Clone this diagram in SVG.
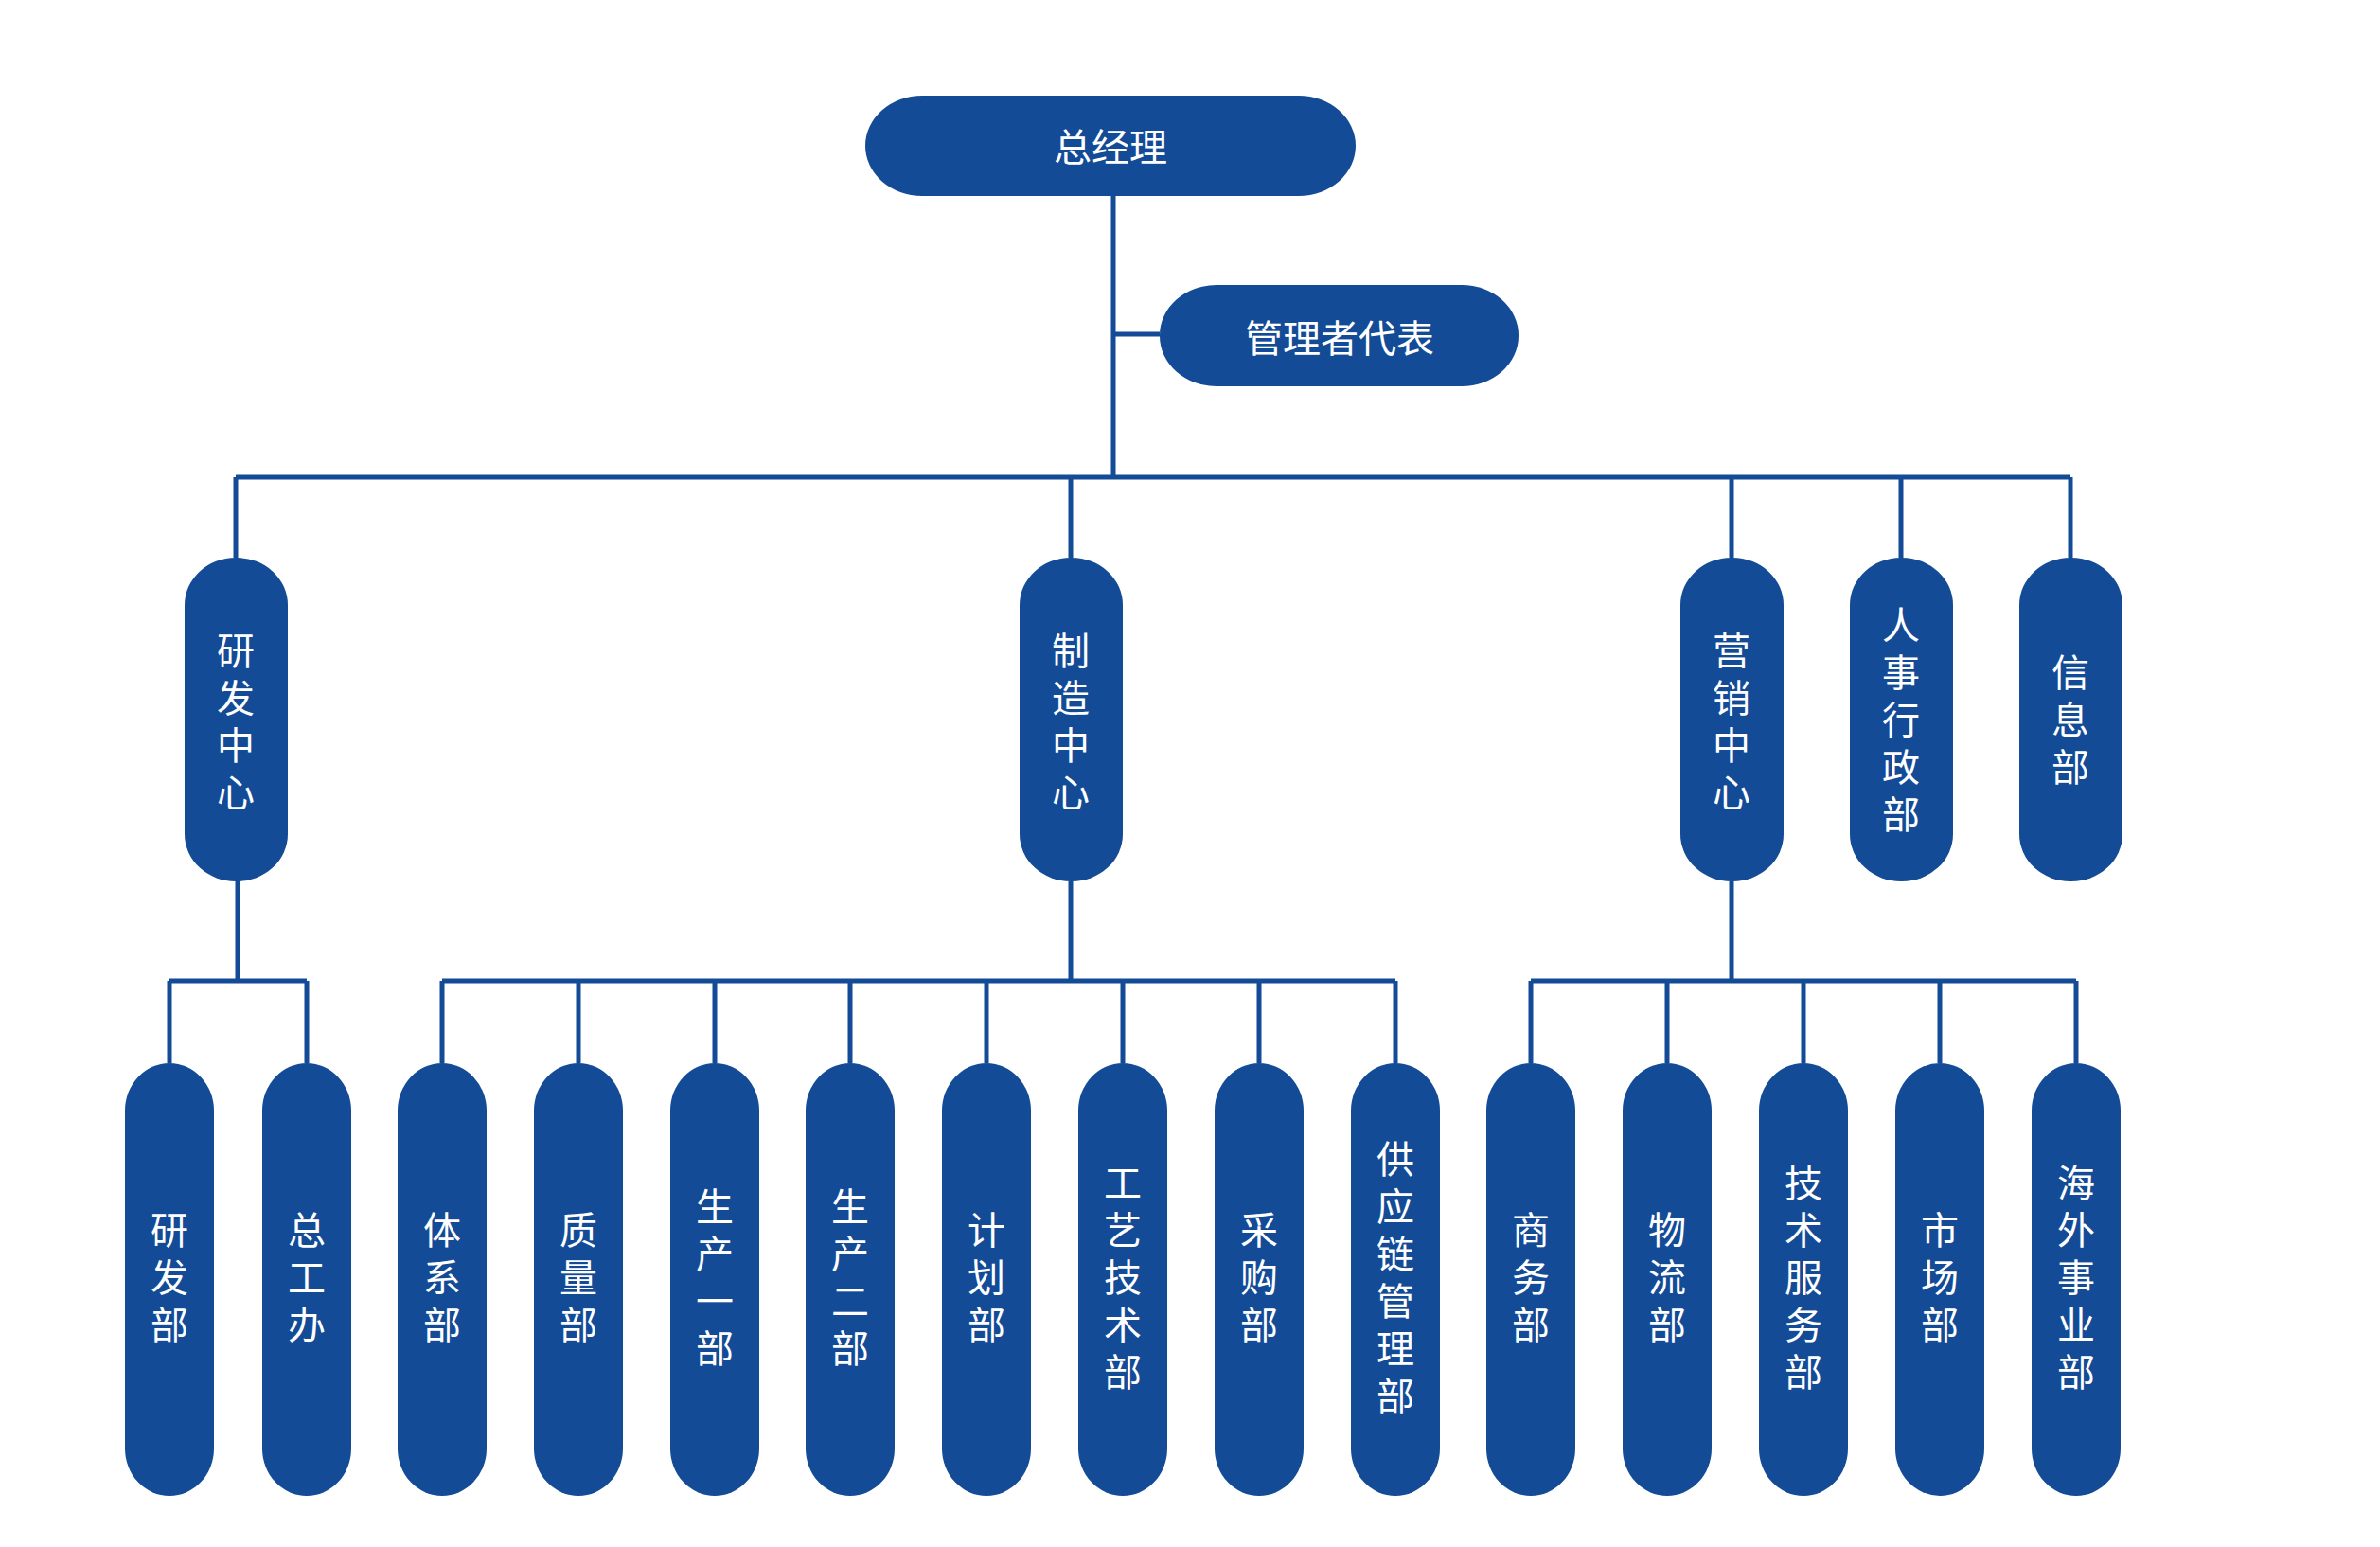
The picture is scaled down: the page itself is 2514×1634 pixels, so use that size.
<svg xmlns="http://www.w3.org/2000/svg" width="2514" height="1634" viewBox="0 0 2514 1634">
<style>
.n{fill:#134b97}
.t{fill:#fff;font-family:"Noto Sans CJK SC",sans-serif;font-size:40px;text-anchor:middle;dominant-baseline:central}
.c{stroke:#134b97;stroke-width:5;fill:none}
</style>
<rect width="2514" height="1634" fill="#fff"/>
<g id="connectors" class="c">
<path d="M1176 207V504M1176 353H1225M249 504H2187M249 504V589M1131 504V589M1829 504V589M2008 504V589M2187 504V589"/>
<path d="M251 931V1036M179 1036H324M179 1036V1123M324 1036V1123"/>
<path d="M1131 931V1036M467 1036H1474M467 1036V1123M611 1036V1123M755 1036V1123M898 1036V1123M1042 1036V1123M1186 1036V1123M1330 1036V1123M1474 1036V1123"/>
<path d="M1829 931V1036M1617 1036H2193M1617 1036V1123M1761 1036V1123M1905 1036V1123M2049 1036V1123M2193 1036V1123"/>
</g>
<g id="gm"><rect class="n" x="914" y="101" width="518" height="106" rx="60" ry="53"/><text class="t" x="1173" y="153">总经理</text></g>
<g id="rep"><rect class="n" x="1225" y="301" width="379" height="107" rx="60" ry="53"/><text class="t" x="1415" y="355">管理者代表</text></g>
<g id="m1"><rect class="n" x="195" y="589" width="109" height="342" rx="54" ry="50"/><text class="t"><tspan x="249" y="685">研</tspan><tspan x="249" dy="50">发</tspan><tspan x="249" dy="50">中</tspan><tspan x="249" dy="50">心</tspan></text></g>
<g id="m2"><rect class="n" x="1077" y="589" width="109" height="342" rx="54" ry="50"/><text class="t"><tspan x="1131" y="685">制</tspan><tspan x="1131" dy="50">造</tspan><tspan x="1131" dy="50">中</tspan><tspan x="1131" dy="50">心</tspan></text></g>
<g id="m3"><rect class="n" x="1775" y="589" width="109" height="342" rx="54" ry="50"/><text class="t"><tspan x="1829" y="685">营</tspan><tspan x="1829" dy="50">销</tspan><tspan x="1829" dy="50">中</tspan><tspan x="1829" dy="50">心</tspan></text></g>
<g id="m4"><rect class="n" x="1954" y="589" width="109" height="342" rx="54" ry="50"/><text class="t"><tspan x="2008" y="658">人</tspan><tspan x="2008" dy="50">事</tspan><tspan x="2008" dy="50">行</tspan><tspan x="2008" dy="50">政</tspan><tspan x="2008" dy="50">部</tspan></text></g>
<g id="m5"><rect class="n" x="2133" y="589" width="109" height="342" rx="54" ry="50"/><text class="t"><tspan x="2187" y="708">信</tspan><tspan x="2187" dy="50">息</tspan><tspan x="2187" dy="50">部</tspan></text></g>
<g id="b1"><rect class="n" x="132" y="1123" width="94" height="457" rx="47" ry="50"/><text class="t"><tspan x="179" y="1297">研</tspan><tspan x="179" dy="50">发</tspan><tspan x="179" dy="50">部</tspan></text></g>
<g id="b2"><rect class="n" x="277" y="1123" width="94" height="457" rx="47" ry="50"/><text class="t"><tspan x="324" y="1297">总</tspan><tspan x="324" dy="50">工</tspan><tspan x="324" dy="50">办</tspan></text></g>
<g id="b3"><rect class="n" x="420" y="1123" width="94" height="457" rx="47" ry="50"/><text class="t"><tspan x="467" y="1297">体</tspan><tspan x="467" dy="50">系</tspan><tspan x="467" dy="50">部</tspan></text></g>
<g id="b4"><rect class="n" x="564" y="1123" width="94" height="457" rx="47" ry="50"/><text class="t"><tspan x="611" y="1297">质</tspan><tspan x="611" dy="50">量</tspan><tspan x="611" dy="50">部</tspan></text></g>
<g id="b5"><rect class="n" x="708" y="1123" width="94" height="457" rx="47" ry="50"/><text class="t"><tspan x="755" y="1272">生</tspan><tspan x="755" dy="50">产</tspan><tspan x="755" dy="50">一</tspan><tspan x="755" dy="50">部</tspan></text></g>
<g id="b6"><rect class="n" x="851" y="1123" width="94" height="457" rx="47" ry="50"/><text class="t"><tspan x="898" y="1272">生</tspan><tspan x="898" dy="50">产</tspan><tspan x="898" dy="50">二</tspan><tspan x="898" dy="50">部</tspan></text></g>
<g id="b7"><rect class="n" x="995" y="1123" width="94" height="457" rx="47" ry="50"/><text class="t"><tspan x="1042" y="1297">计</tspan><tspan x="1042" dy="50">划</tspan><tspan x="1042" dy="50">部</tspan></text></g>
<g id="b8"><rect class="n" x="1139" y="1123" width="94" height="457" rx="47" ry="50"/><text class="t"><tspan x="1186" y="1247">工</tspan><tspan x="1186" dy="50">艺</tspan><tspan x="1186" dy="50">技</tspan><tspan x="1186" dy="50">术</tspan><tspan x="1186" dy="50">部</tspan></text></g>
<g id="b9"><rect class="n" x="1283" y="1123" width="94" height="457" rx="47" ry="50"/><text class="t"><tspan x="1330" y="1297">采</tspan><tspan x="1330" dy="50">购</tspan><tspan x="1330" dy="50">部</tspan></text></g>
<g id="b10"><rect class="n" x="1427" y="1123" width="94" height="457" rx="47" ry="50"/><text class="t"><tspan x="1474" y="1222">供</tspan><tspan x="1474" dy="50">应</tspan><tspan x="1474" dy="50">链</tspan><tspan x="1474" dy="50">管</tspan><tspan x="1474" dy="50">理</tspan><tspan x="1474" dy="50">部</tspan></text></g>
<g id="b11"><rect class="n" x="1570" y="1123" width="94" height="457" rx="47" ry="50"/><text class="t"><tspan x="1617" y="1297">商</tspan><tspan x="1617" dy="50">务</tspan><tspan x="1617" dy="50">部</tspan></text></g>
<g id="b12"><rect class="n" x="1714" y="1123" width="94" height="457" rx="47" ry="50"/><text class="t"><tspan x="1761" y="1297">物</tspan><tspan x="1761" dy="50">流</tspan><tspan x="1761" dy="50">部</tspan></text></g>
<g id="b13"><rect class="n" x="1858" y="1123" width="94" height="457" rx="47" ry="50"/><text class="t"><tspan x="1905" y="1247">技</tspan><tspan x="1905" dy="50">术</tspan><tspan x="1905" dy="50">服</tspan><tspan x="1905" dy="50">务</tspan><tspan x="1905" dy="50">部</tspan></text></g>
<g id="b14"><rect class="n" x="2002" y="1123" width="94" height="457" rx="47" ry="50"/><text class="t"><tspan x="2049" y="1297">市</tspan><tspan x="2049" dy="50">场</tspan><tspan x="2049" dy="50">部</tspan></text></g>
<g id="b15"><rect class="n" x="2146" y="1123" width="94" height="457" rx="47" ry="50"/><text class="t"><tspan x="2193" y="1247">海</tspan><tspan x="2193" dy="50">外</tspan><tspan x="2193" dy="50">事</tspan><tspan x="2193" dy="50">业</tspan><tspan x="2193" dy="50">部</tspan></text></g>
</svg>
